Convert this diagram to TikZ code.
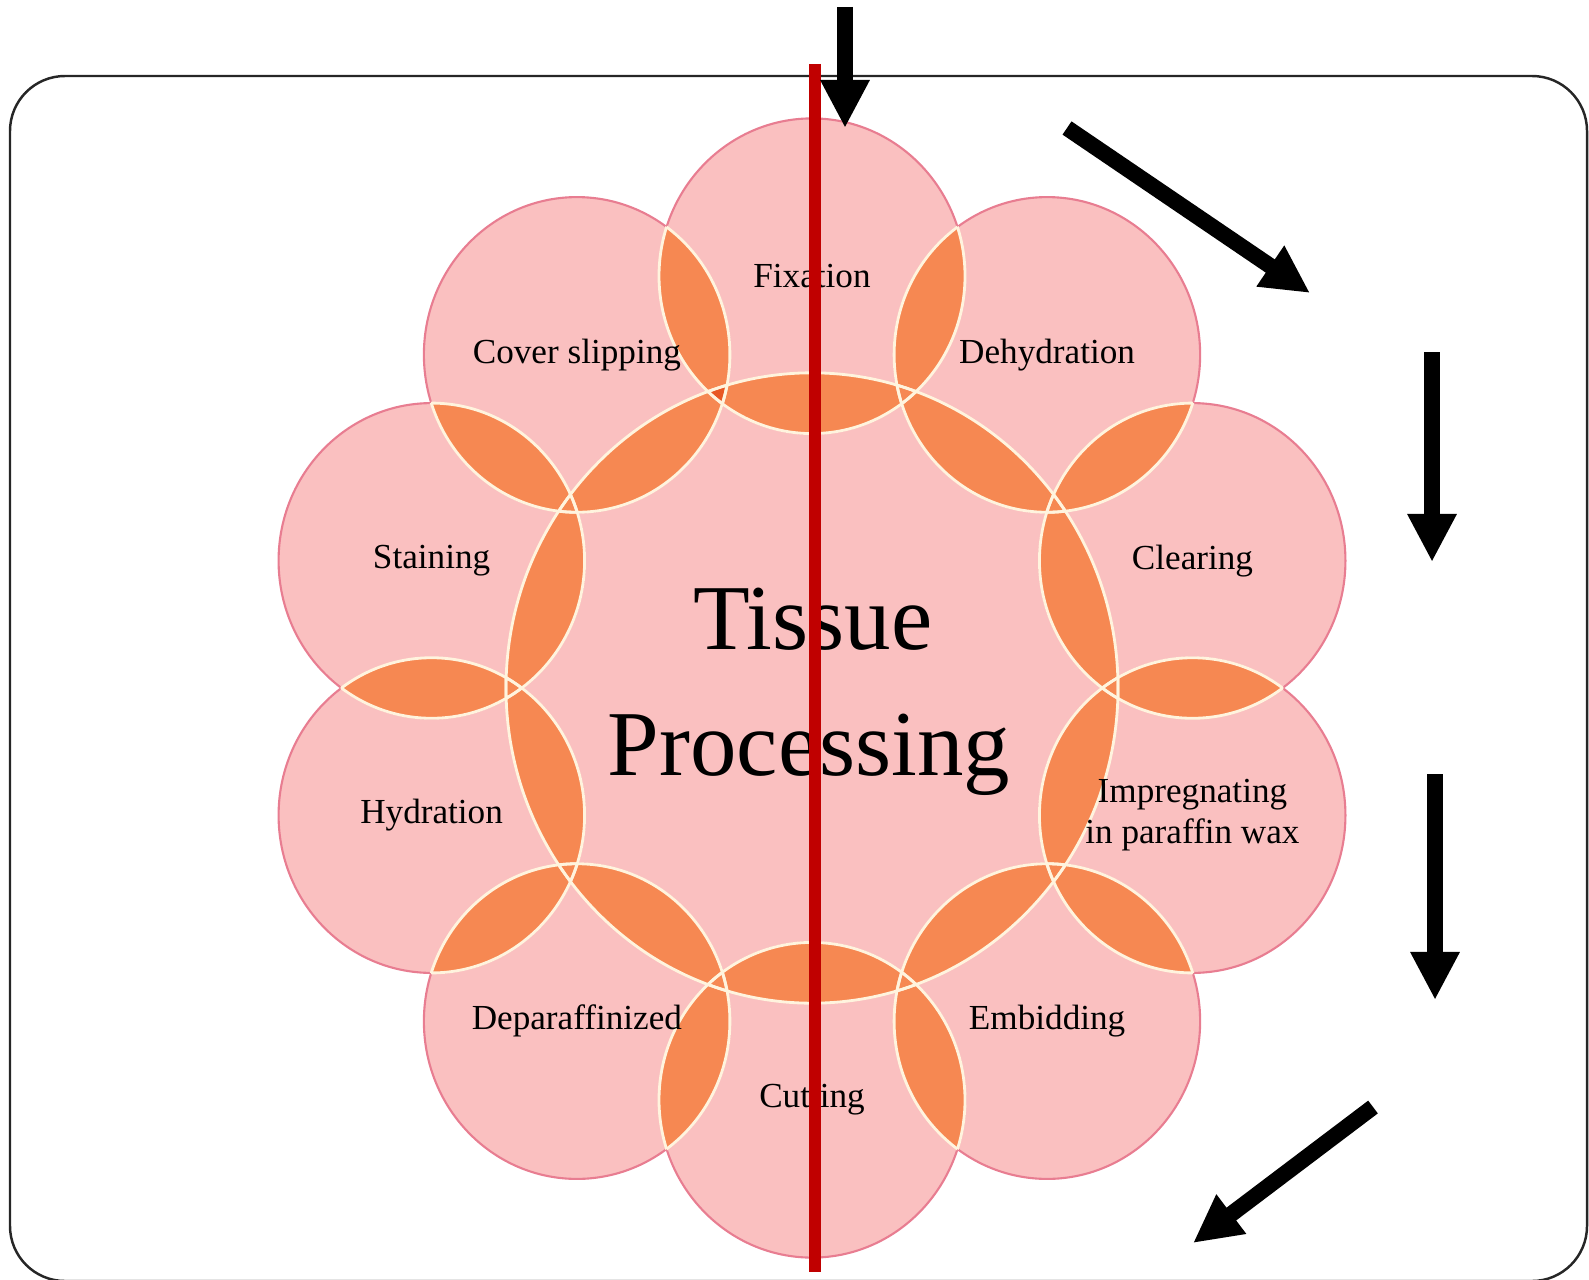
\documentclass[tikz,border=0pt]{standalone}
\usepackage{fontspec}
\setmainfont{Liberation Serif}
\usetikzlibrary{arrows.meta}

\definecolor{petalpink}{RGB}{250,192,192}
\definecolor{petalrim}{RGB}{232,125,145}
\definecolor{lensorange}{RGB}{246,136,82}
\definecolor{coreorange}{RGB}{232,88,36}
\definecolor{seamcream}{RGB}{255,244,222}
\definecolor{cutred}{RGB}{192,0,0}

\begin{document}
\begin{tikzpicture}[x=0.01cm, y=0.01cm,
      petal/.style={fill=petalpink, draw=petalrim, line width=0.6pt},
      lens/.style={fill=lensorange},
      triple/.style={fill=coreorange},
      seam/.style={draw=seamcream, line width=0.8pt},
      steplabel/.style={font=\fontsize{10}{11.6}\selectfont, align=center, inner sep=1pt},
      bigtitle/.style={font=\fontsize{26.4}{30}\selectfont, anchor=base, inner sep=0pt},
      flow/.style={line width=0.16cm, -{Triangle[width=0.46cm, length=0.48cm]}},
      cutline/.style={draw=cutred, line width=0.12cm},
      frame/.style={draw=black!85, line width=0.7pt, rounded corners=0.55cm},
    ]
    \useasboundingbox (0,0) rectangle (1589,-1279);

    %% --- Frame ---
    \draw[frame] (10,-76) rectangle (1587,-1281);

    %% --- Ring of steps ---
    \begin{scope}[shift={(812,-688)}, yscale=1.03]
      \fill[petal] (0,0) circle (306);
      \foreach \a in {90,54,18,-18,-54,-90,-126,-162,-198,-234}
        \fill[petal] (\a:400) circle (153);

      % overlaps
      \foreach \a [evaluate=\a as \b using \a-36] in {90,54,18,-18,-54,-90,-126,-162,-198,-234} {
        \begin{scope}
          \clip (0,0) circle (306);
          \fill[lens] (\a:400) circle (153);
        \end{scope}
        \begin{scope}
          \clip (\a:400) circle (153);
          \fill[lens] (\b:400) circle (153);
        \end{scope}
        \begin{scope}
          \clip (0,0) circle (306);
          \clip (\a:400) circle (153);
          \fill[triple] (\b:400) circle (153);
        \end{scope}
      }

      % seams
      \foreach \a [evaluate=\a as \b using \a-36] in {90,54,18,-18,-54,-90,-126,-162,-198,-234} {
        \begin{scope}
          \clip (0,0) circle (306);
          \draw[seam] (\a:400) circle (153);
        \end{scope}
        \begin{scope}
          \clip (\a:400) circle (153);
          \draw[seam] (0,0) circle (306);
          \draw[seam] (\b:400) circle (153);
        \end{scope}
        \begin{scope}
          \clip (\b:400) circle (153);
          \draw[seam] (\a:400) circle (153);
        \end{scope}
      }

      \foreach \a/\nm/\txt in {90/fixation/{Fixation}, 54/dehydration/{Dehydration},
          18/clearing/{Clearing}, -18/impregnating/{Impregnating\\in paraffin wax},
          -54/embidding/{Embidding}, -90/cutting/{Cutting},
          -126/deparaffinized/{Deparaffinized}, -162/hydration/{Hydration},
          162/staining/{Staining}, 126/coverslip/{Cover slipping}}
        \node[steplabel] (\nm) at (\a:400) {\txt};
    \end{scope}

    \node[bigtitle] (tissue)     at (813,-649) {Tissue};
    \node[bigtitle] (processing) at (809,-775) {Processing};

    %% --- Cut line ---
    \coordinate (cuttop) at (815,-64);
    \coordinate (cutbot) at (815,-1272);
    \draw[cutline] (cuttop) -- (cutbot);

    %% --- Flow arrows ---
    \coordinate (inA)   at (845,-7);
    \coordinate (inAtip) at (845,-128);
    \coordinate (inB)   at (1067,-128);
    \coordinate (inBtip) at (1310,-293);
    \coordinate (inC)   at (1432,-352);
    \coordinate (inCtip) at (1432,-562);
    \coordinate (inD)   at (1435,-774);
    \coordinate (inDtip) at (1435,-1000);
    \coordinate (inE)   at (1373,-1107);
    \coordinate (inEtip) at (1193,-1243);

    \draw[flow] (inA) -- (inAtip);
    \draw[flow] (inB) -- (inBtip);
    \draw[flow] (inC) -- (inCtip);
    \draw[flow] (inD) -- (inDtip);
    \draw[flow] (inE) -- (inEtip);

  \end{tikzpicture}
\end{document}
